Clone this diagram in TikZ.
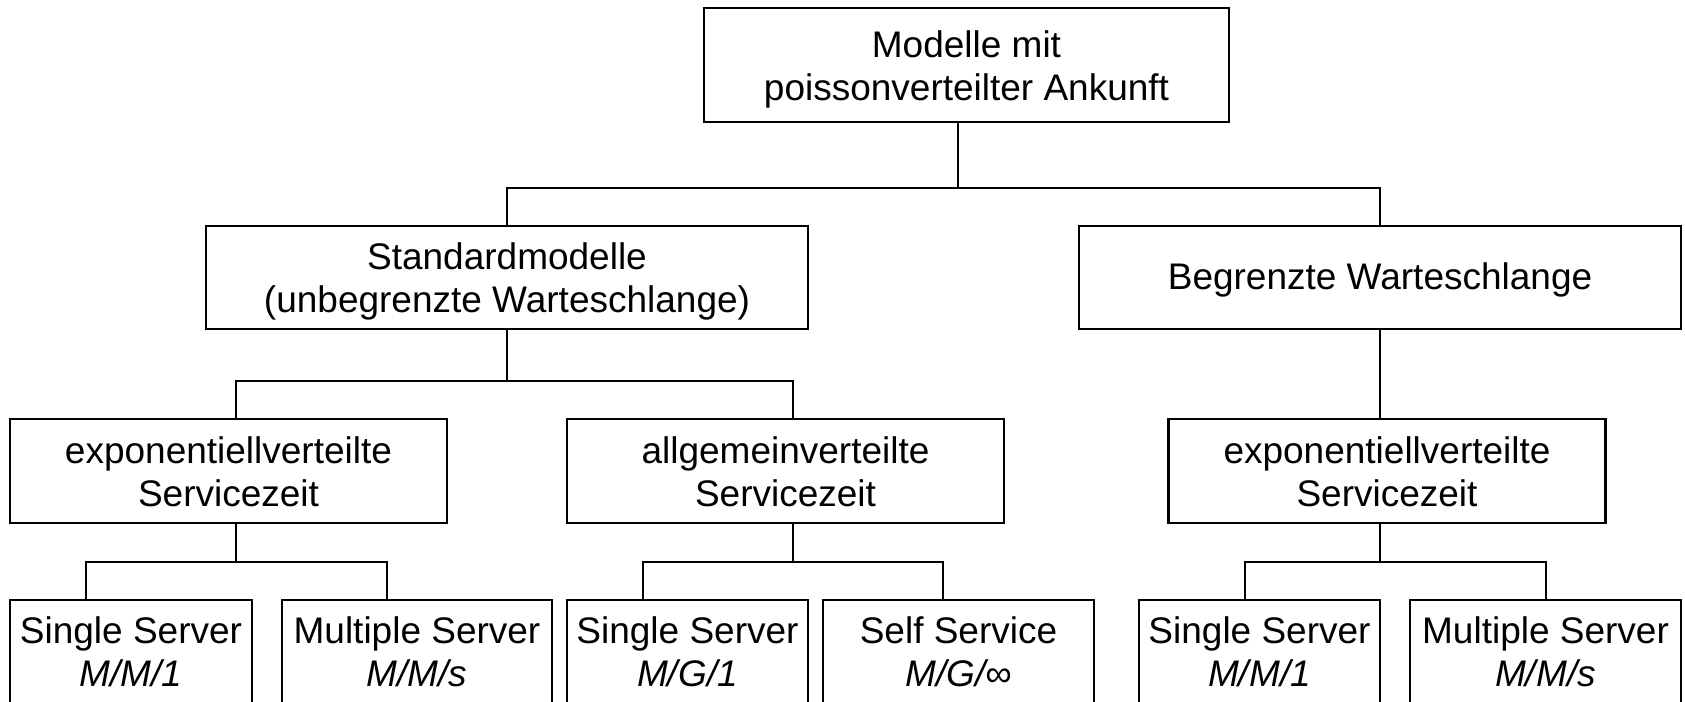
\documentclass[tikz,border=0pt]{standalone}
\usepackage{fontspec}
\setmainfont{Liberation Sans}
\begin{document}
\begin{tikzpicture}[x=1pt,y=-1pt,
  box/.style={draw, line width=2.8pt, inner sep=0pt, align=center,
    font=\fontsize{37}{43}\selectfont, text height=70pt, text depth=0pt},
  onebox/.style={box, text height=27pt, text depth=3pt},
  lowbox/.style={box, text depth=2pt, minimum height=104pt},
  conn/.style={line width=1.6pt}]
\useasboundingbox (0,0) rectangle (1685,701);
\clip (0,0) rectangle (1685,701);
% level 1
\node[box, minimum width=525pt, minimum height=114pt] (top) at (966.5,65) {Modelle mit\\poissonverteilter Ankunft};
% level 2
\node[box, minimum width=602pt, minimum height=103pt] (std) at (507,277.5) {Standardmodelle\\(unbegrenzte Warteschlange)};
\node[onebox, minimum width=602pt, minimum height=103pt] (beg) at (1380,277.5) {Begrenzte Warteschlange};
% level 3
\node[box, minimum width=437pt, minimum height=104pt] (l3a) at (228.5,471) {exponentiellverteilte\\Servicezeit};
\node[box, minimum width=437pt, minimum height=104pt] (l3b) at (785.5,471) {allgemeinverteilte\\Servicezeit};
\node[box, minimum width=437pt, minimum height=104pt] (l3c) at (1387,471) {exponentiellverteilte\\Servicezeit};
% level 4
\node[lowbox, minimum width=242pt] (b1) at (131,652) {Single Server\\\textit{M/M/1}};
\node[lowbox, minimum width=270pt] (b2) at (417,652) {Multiple Server\\\textit{M/M/s}};
\node[lowbox, minimum width=241pt] (b3) at (687.5,652) {Single Server\\\textit{M/G/1}};
\node[lowbox, minimum width=271pt] (b4) at (958.5,652) {Self Service\\\textit{M/G/∞}};
\node[lowbox, minimum width=241pt] (b5) at (1259.5,652) {Single Server\\\textit{M/M/1}};
\node[lowbox, minimum width=271pt] (b6) at (1545.5,652) {Multiple Server\\\textit{M/M/s}};
% junction coordinates
\coordinate (j1) at (958,188);
\coordinate (j2) at (507,381);
\coordinate (d2a) at (236,381);
\coordinate (d2b) at (793,381);
\coordinate (s1) at (236,562);
\coordinate (e1a) at (86,562);
\coordinate (e1b) at (387,562);
\coordinate (s2) at (793,562);
\coordinate (e2a) at (643,562);
\coordinate (e2b) at (943,562);
\coordinate (s3) at (1380,562);
\coordinate (e3a) at (1245,562);
\coordinate (e3b) at (1546,562);
% connectors
\draw[conn] (top.south -| j1) -- (j1);
\draw[conn] (std.north) |- (j1) -| (beg.north);
\draw[conn] (std.south) -- (j2);
\draw[conn] (d2a |- l3a.north) -- (d2a) -- (d2b) -- (d2b |- l3b.north);
\draw[conn] (beg.south) -- (beg.south |- l3c.north);
\draw[conn] (l3a.south -| s1) -- (s1);
\draw[conn] (e1a |- b1.north) -- (e1a) -- (e1b) -- (e1b |- b2.north);
\draw[conn] (l3b.south -| s2) -- (s2);
\draw[conn] (e2a |- b3.north) -- (e2a) -- (e2b) -- (e2b |- b4.north);
\draw[conn] (l3c.south -| s3) -- (s3);
\draw[conn] (e3a |- b5.north) -- (e3a) -- (e3b) -- (e3b |- b6.north);
\end{tikzpicture}
\end{document}
